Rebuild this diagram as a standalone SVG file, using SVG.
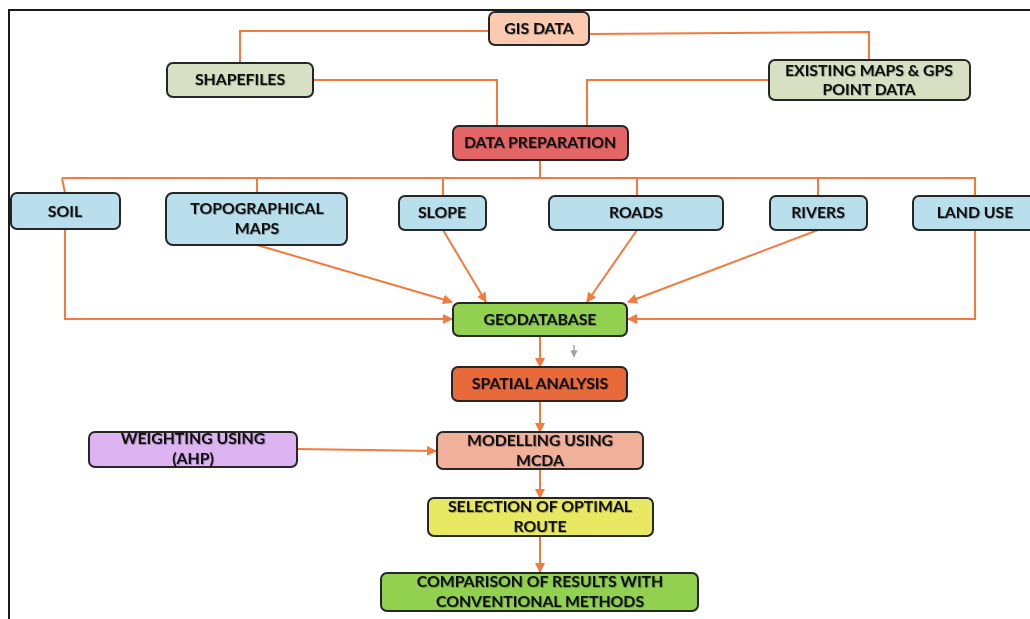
<svg xmlns="http://www.w3.org/2000/svg" width="1030" height="619" viewBox="0 0 1030 619">
  <style>
    .box { stroke: #262626; stroke-width: 2; }
    .lbl { font-family: Lato, "Open Sans", "Liberation Sans", sans-serif; font-weight: bold; font-size: 15.8px; fill: #111; text-anchor: middle; filter: url(#shadow); }
    .wire { fill: none; stroke: #f37a3c; stroke-width: 2; }
    .arrow { fill: none; stroke: #f37a3c; stroke-width: 2; marker-end: url(#head); }
  </style>
  <defs>
    <marker id="head" viewBox="0 0 10 10" refX="9" refY="5" markerWidth="5" markerHeight="5" orient="auto" markerUnits="strokeWidth">
      <path d="M0,0 L10,5 L0,10 Z" fill="#f37a3c"/>
    </marker>
    <marker id="headGray" viewBox="0 0 10 10" refX="9" refY="5" markerWidth="5" markerHeight="5" orient="auto" markerUnits="strokeWidth">
      <path d="M0,0 L10,5 L0,10 Z" fill="#a6a6a6"/>
    </marker>
    <filter id="shadow" x="-10%" y="-30%" width="120%" height="160%">
      <feDropShadow dx="0.8" dy="0.8" stdDeviation="0.6" flood-color="#000" flood-opacity="0.35"/>
    </filter>
  </defs>

  <rect width="1030" height="619" fill="#fff"/>
  <!-- page frame -->
  <path d="M9,619 V10 H1030" fill="none" stroke="#1a1a1a" stroke-width="2"/>

  <g id="connectors">
    <!-- sources into data preparation -->
    <path class="wire" d="M489,31 H240 V63"/>
    <path class="wire" d="M313,80 H497 V126"/>
    <path class="wire" d="M589,34 L869,32 V60"/>
    <path class="wire" d="M769,80 H587 V126"/>
    <!-- distribution bus to thematic layers -->
    <path class="wire" d="M540,160 V178"/>
    <path class="wire" d="M62,178 H975 V196"/>
    <path class="wire" d="M62,178 L65,193"/>
    <path class="wire" d="M257,178 V193"/>
    <path class="wire" d="M443,178 V196"/>
    <path class="wire" d="M637,178 V196"/>
    <path class="wire" d="M818,178 V196"/>
    <!-- layers into geodatabase -->
    <path class="arrow" d="M65,229 V319 H452"/>
    <path class="arrow" d="M257,245 L452,302"/>
    <path class="arrow" d="M443,230 L486,302"/>
    <path class="arrow" d="M637,230 L587,302"/>
    <path class="arrow" d="M818,230 L628,302"/>
    <path class="arrow" d="M975,230 V319 H628"/>
    <!-- analysis chain -->
    <path class="arrow" d="M540,336 V367"/>
    <path fill="none" stroke="#a6a6a6" stroke-width="1.5" marker-end="url(#headGray)" d="M574,345 V357"/>
    <path class="arrow" d="M540,401 V432"/>
    <path class="arrow" d="M297,449 L436,451"/>
    <path class="arrow" d="M540,469 V498"/>
    <path class="arrow" d="M540,536 V572"/>
  </g>

  <g id="gis-data">
    <rect class="box" x="489" y="12" width="100" height="33" rx="6" fill="#fbcab0"/>
    <text class="lbl" x="539" y="34">GIS DATA</text>
  </g>
  <g id="shapefiles">
    <rect class="box" x="167" y="63" width="146" height="34" rx="6" fill="#d7e0c2"/>
    <text class="lbl" x="240" y="85">SHAPEFILES</text>
  </g>
  <g id="existing-maps">
    <rect class="box" x="769" y="60" width="201" height="40" rx="6" fill="#d7e0c2"/>
    <text class="lbl" x="869" y="76">EXISTING MAPS &amp; GPS</text>
    <text class="lbl" x="869" y="95">POINT DATA</text>
  </g>
  <g id="data-preparation">
    <rect class="box" x="453" y="126" width="175" height="34" rx="6" fill="#e46566"/>
    <text class="lbl" x="540" y="148">DATA PREPARATION</text>
  </g>

  <g id="soil">
    <rect class="box" x="11" y="193" width="109" height="36" rx="6" fill="#b9dfed"/>
    <text class="lbl" x="65" y="217">SOIL</text>
  </g>
  <g id="topographical-maps">
    <rect class="box" x="166" y="193" width="181" height="52" rx="7" fill="#b9dfed"/>
    <text class="lbl" x="257" y="214">TOPOGRAPHICAL</text>
    <text class="lbl" x="257" y="234">MAPS</text>
  </g>
  <g id="slope">
    <rect class="box" x="399" y="196" width="87" height="34" rx="6" fill="#b9dfed"/>
    <text class="lbl" x="442" y="218">SLOPE</text>
  </g>
  <g id="roads">
    <rect class="box" x="549" y="196" width="174" height="34" rx="6" fill="#b9dfed"/>
    <text class="lbl" x="636" y="218">ROADS</text>
  </g>
  <g id="rivers">
    <rect class="box" x="770" y="196" width="97" height="34" rx="6" fill="#b9dfed"/>
    <text class="lbl" x="818" y="218">RIVERS</text>
  </g>
  <g id="land-use">
    <rect class="box" x="913" y="196" width="130" height="34" rx="6" fill="#b9dfed"/>
    <text class="lbl" x="975" y="218">LAND USE</text>
  </g>

  <g id="geodatabase">
    <rect class="box" x="453" y="303" width="174" height="33" rx="6" fill="#92d050"/>
    <text class="lbl" x="540" y="325">GEODATABASE</text>
  </g>
  <g id="spatial-analysis">
    <rect class="box" x="452" y="367" width="175" height="34" rx="6" fill="#e8693a"/>
    <text class="lbl" x="540" y="389">SPATIAL ANALYSIS</text>
  </g>
  <g id="weighting">
    <rect class="box" x="89" y="432" width="208" height="35" rx="6" fill="#ddb3f2"/>
    <text class="lbl" x="193" y="444">WEIGHTING USING</text>
    <text class="lbl" x="193" y="464">(AHP)</text>
  </g>
  <g id="modelling">
    <rect class="box" x="437" y="432" width="206" height="37" rx="6" fill="#f0b099"/>
    <text class="lbl" x="540" y="446">MODELLING USING</text>
    <text class="lbl" x="540" y="466">MCDA</text>
  </g>
  <g id="selection">
    <rect class="box" x="428" y="498" width="225" height="38" rx="6" fill="#e8e862"/>
    <text class="lbl" x="540" y="512">SELECTION OF OPTIMAL</text>
    <text class="lbl" x="540" y="532">ROUTE</text>
  </g>
  <g id="comparison">
    <rect class="box" x="381" y="573" width="317" height="38" rx="6" fill="#92d050"/>
    <text class="lbl" x="540" y="587">COMPARISON OF RESULTS WITH</text>
    <text class="lbl" x="540" y="607">CONVENTIONAL METHODS</text>
  </g>
</svg>
